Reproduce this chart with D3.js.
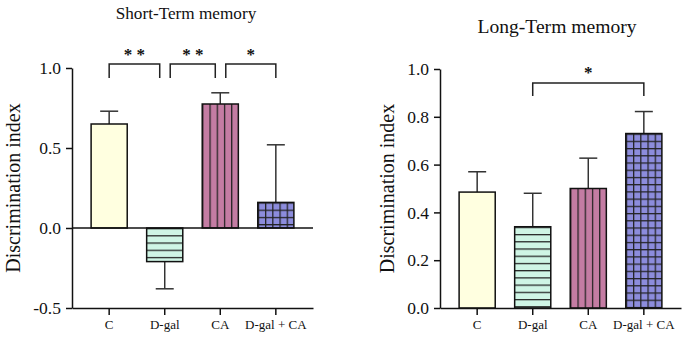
<!DOCTYPE html>
<html>
<head>
<meta charset="utf-8">
<script src="https://cdn.jsdelivr.net/npm/d3@7"></script>
<style>
  body { margin: 0; background: #fff; }
  text { font-family: "Liberation Serif", "Times New Roman", serif; fill: #111; }
</style>
</head>
<body>
<svg id="chart" width="688" height="341"></svg>
<script>
const categories = ["C", "D-gal", "CA", "D-gal + CA"]
const shortMeans = [0.65, -0.21, 0.775, 0.16]
const shortErr = [0.08, 0.17, 0.07, 0.36]
const longMeans = [0.485, 0.34, 0.50, 0.73]
const longErr = [0.085, 0.14, 0.127, 0.092]
const shortTicks = [-0.5, 0, 0.5, 1.0]
const longTicks = [0, 0.2, 0.4, 0.6, 0.8, 1.0]
const barColors = ["#ffffe0", "#cff5e5", "#c47ca3", "#8c8cdc"]
const barPatterns = ["none", "hlines", "vlines", "grid"]
const shortSig = [["C", "D-gal", "* *"], ["D-gal", "CA", "* *"], ["CA", "D-gal + CA", "*"]]
const longSig = [["D-gal", "D-gal + CA", "*"]]

const svg = d3.select("#chart")
const defs = svg.append("defs")
const fmt = d => d3.format(".1f")(d).replace("\u2212", "-")

const drawPanel = (opt) => {
    const x = d3.scaleBand()
        .domain(categories)
        .range(opt.xRange)
        .paddingInner(0.35)
        .paddingOuter(0.344)
    const y = d3.scaleLinear()
        .domain(opt.yDomain)
        .range(opt.yRange)
    const bw = x.bandwidth()
    const cell = bw / 5

    const data = categories.map((c, i) => ({ cat: c, v: opt.means[i], e: opt.errs[i], i: i }))

    // patterns, one per bar so they line up with its edges
    data.forEach(d => {
        const top = d.v >= 0 ? y(d.v) : y(0)
        const p = defs.append("pattern")
            .attr("id", `${opt.id}-pat-${d.i}`)
            .attr("patternUnits", "userSpaceOnUse")
            .attr("x", x(d.cat))
            .attr("y", top)
            .attr("width", cell)
            .attr("height", cell)
        p.append("rect").attr("width", cell).attr("height", cell).attr("fill", barColors[d.i])
        const kind = barPatterns[d.i]
        if (kind === "hlines" || kind === "grid") {
            p.append("line").attr("x1", 0).attr("x2", cell).attr("y1", 0.6).attr("y2", 0.6)
                .attr("stroke", "#222").attr("stroke-width", 1.3)
        }
        if (kind === "vlines" || kind === "grid") {
            p.append("line").attr("y1", 0).attr("y2", cell).attr("x1", 0.6).attr("x2", 0.6)
                .attr("stroke", "#222").attr("stroke-width", 1.3)
        }
    })

    const g = svg.append("g")

    // error bars (one-sided, away from zero)
    const eb = g.append("g").attr("stroke", "#333").attr("stroke-width", 1.5)
    data.forEach(d => {
        const cx = x(d.cat) + bw / 2
        const end = d.v >= 0 ? d.v + d.e : d.v - d.e
        eb.append("line").attr("x1", cx).attr("x2", cx).attr("y1", y(d.v)).attr("y2", y(end))
        eb.append("line").attr("x1", cx - 9).attr("x2", cx + 9).attr("y1", y(end)).attr("y2", y(end))
    })

    g.append("g")
      .selectAll("rect")
      .data(data)
      .join("rect")
        .attr("x", d => x(d.cat))
        .attr("y", d => y(Math.max(0, d.v)))
        .attr("width", bw)
        .attr("height", d => Math.abs(y(d.v) - y(0)))
        .attr("fill", d => barPatterns[d.i] === "none" ? barColors[d.i] : `url(#${opt.id}-pat-${d.i})`)
        .attr("stroke", "#111")
        .attr("stroke-width", 1.5)

    // zero line when the axis sits below zero
    if (opt.yDomain[0] < 0) {
        g.append("line")
            .attr("x1", opt.xRange[0]).attr("x2", opt.xRange[1])
            .attr("y1", y(0)).attr("y2", y(0))
            .attr("stroke", "#111").attr("stroke-width", 1.5)
    }

    const yAxis = g.append("g")
        .attr("transform", `translate(${opt.xRange[0]},0)`)
        .call(d3.axisLeft(y).tickValues(opt.ticks).tickFormat(fmt).tickSize(6).tickPadding(5).tickSizeOuter(0))
    yAxis.selectAll("text").attr("font-size", 17.5).attr("font-family", "Liberation Serif").attr("fill", "#111")

    const xAxis = g.append("g")
        .attr("transform", `translate(0,${opt.yRange[0]})`)
        .call(d3.axisBottom(x).tickSize(7).tickPadding(5).tickSizeOuter(0))
    xAxis.selectAll("text").attr("font-size", 13).attr("font-family", "Liberation Serif").attr("fill", "#111")

    g.selectAll(".domain, .tick line").attr("stroke", "#111").attr("stroke-width", 1.5)

    // significance brackets
    const sg = g.append("g")
    opt.sig.forEach(s => {
        const shareStart = opt.sig.some(o => o !== s && o[1] === s[0])
        const shareEnd = opt.sig.some(o => o !== s && o[0] === s[1])
        const x1 = x(s[0]) + bw / 2 + (shareStart ? 5.5 : 0)
        const x2 = x(s[1]) + bw / 2 - (shareEnd ? 5 : 0)
        sg.append("path")
            .attr("d", `M${x1},${opt.sigY + opt.sigDrop}V${opt.sigY}H${x2}V${opt.sigY + opt.sigDrop}`)
            .attr("fill", "none").attr("stroke", "#222").attr("stroke-width", 1.5)
        sg.append("text")
            .attr("x", (x1 + x2) / 2)
            .attr("y", opt.starY)
            .attr("text-anchor", "middle")
            .attr("font-size", 17)
            .attr("font-weight", "bold")
            .text(s[2])
    })

    svg.append("text")
        .attr("x", opt.titleX).attr("y", opt.titleY)
        .attr("text-anchor", "middle")
        .attr("font-size", opt.titleSize)
        .text(opt.title)

    svg.append("text")
        .attr("transform", `translate(${opt.labelX},${(opt.yRange[0] + opt.yRange[1]) / 2}) rotate(-90)`)
        .attr("text-anchor", "middle")
        .attr("font-size", 20)
        .text("Discrimination index")
}

drawPanel({
    id: "st", title: "Short-Term memory", titleX: 186, titleY: 19, titleSize: 17.2,
    means: shortMeans, errs: shortErr, ticks: shortTicks,
    xRange: [72, 313], yDomain: [-0.5, 1.0], yRange: [308, 68],
    sig: shortSig, sigY: 64, sigDrop: 14, starY: 60, labelX: 20
})
drawPanel({
    id: "lt", title: "Long-Term memory", titleX: 557, titleY: 33, titleSize: 19.6,
    means: longMeans, errs: longErr, ticks: longTicks,
    xRange: [440, 681], yDomain: [0, 1.0], yRange: [308, 69],
    sig: longSig, sigY: 83, sigDrop: 13, starY: 78, labelX: 394
})
</script>
</body>
</html>
